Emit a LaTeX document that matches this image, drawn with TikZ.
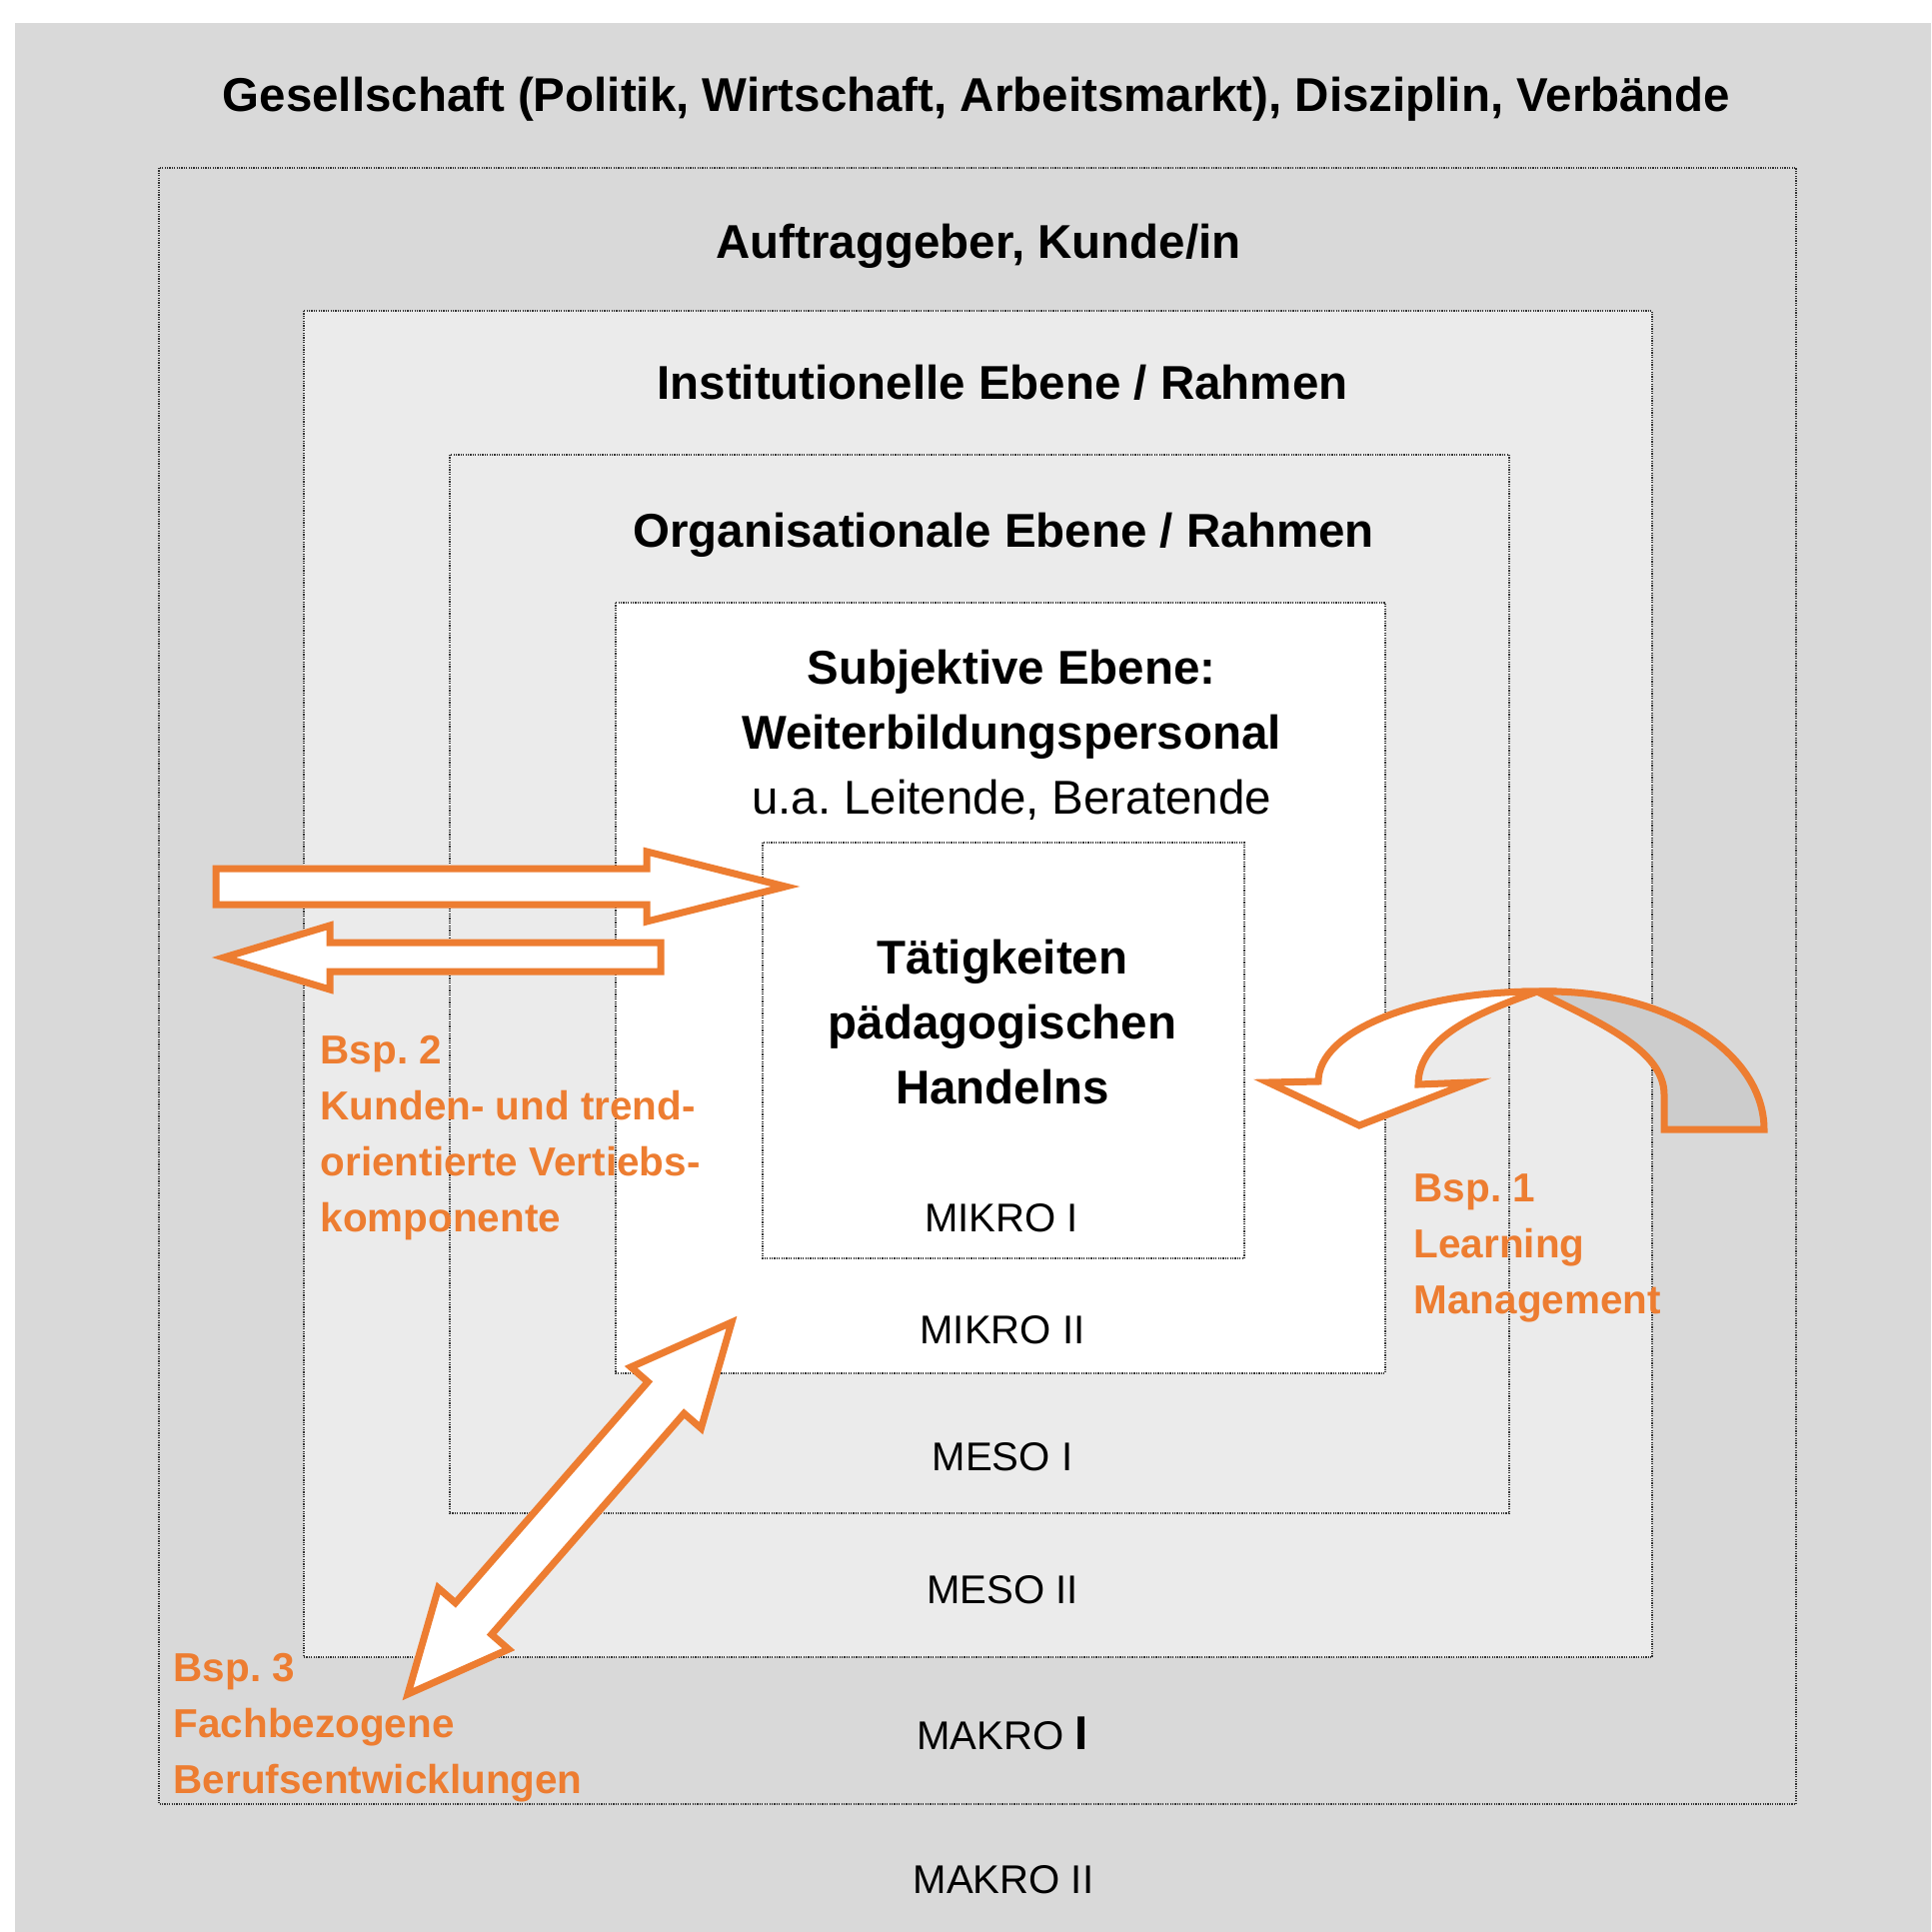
\documentclass[tikz,border=0pt]{standalone}
\usepackage{fontspec}
\setmainfont{Liberation Sans}
\frenchspacing
\definecolor{bsporange}{RGB}{237,125,49}
\definecolor{grauaussen}{RGB}{217,217,217}
\definecolor{grauinnen}{RGB}{235,235,235}
\definecolor{graurueck}{RGB}{204,204,204}
\tikzset{
  ebene/.style={draw=black!80, line width=0.12mm, dash pattern=on 0.12mm off 0.12mm},
  titel/.style={font=\bfseries\fontsize{13.5}{18.6}\selectfont, inner sep=0pt, align=center},
  stufe/.style={font=\fontsize{11.4}{13}\selectfont, inner sep=0pt, anchor=base},
  bsp/.style={text=bsporange, font=\bfseries\fontsize{11.5}{15.9}\selectfont, inner sep=0pt, align=left, anchor=north west},
  blockpfeil/.style={draw=bsporange, line width=0.7mm, line join=miter}
}
\begin{document}
\begin{tikzpicture}[x=0.01cm, y=-0.01cm]
		\useasboundingbox (0,0) rectangle (1932,1933);
		\fill[white] (0,0) rectangle (1932,1933);
		\fill[grauaussen] (15,23) rectangle (1932,1933);
		
		% Ebenen von aussen nach innen
		\draw[ebene, fill=grauaussen] (159,168) rectangle (1797,1805);
		\draw[ebene, fill=grauinnen] (304,311) rectangle (1653,1658);
		\draw[ebene, fill=grauinnen] (450,455) rectangle (1510,1514);
		\draw[ebene, fill=white] (616,603) rectangle (1386,1374);
		\draw[ebene, fill=white] (763,843) rectangle (1245,1259);
		
		\node[titel, anchor=base] (gesellschaft) at (977,111)
			{Gesellschaft (Politik, Wirtschaft, Arbeitsmarkt), Disziplin, Verbände};
		\node[titel, anchor=base] (auftraggeber) at (979,258) {Auftraggeber, Kunde/in};
		\node[titel, anchor=base] (institution) at (1003,399) {Institutionelle Ebene / Rahmen};
		\node[titel, anchor=base] (organisation) at (1004,547) {Organisationale Ebene / Rahmen};
		\node[titel, anchor=north] (subjekt) at (1012,649)
			{Subjektive Ebene:\\Weiterbildungspersonal\\\textmd{u.a. Leitende, Beratende}};
		\node[titel, anchor=north] (taetigkeit) at (1003,939)
			{Tätigkeiten\\pädagogischen\\Handelns};
		
		\node[stufe] (mikroI) at (1002,1232) {MIKRO I};
		\node[stufe] (mikroII) at (1003,1344) {MIKRO II};
		\node[stufe] (mesoI) at (1003,1471) {MESO I};
		\node[stufe] (mesoII) at (1003,1604) {MESO II};
		\node[stufe] (makroI) at (1003,1750)
			{MAKRO {\bfseries\fontsize{13.5}{13.5}\selectfont I}};
		\node[stufe] (makroII) at (1004,1894) {MAKRO II};
		
		% Bsp. 2
		\draw[blockpfeil, fill=white] (216,869) -- (647,869) -- (647,852)
			-- (786,887) -- (647,922) -- (647,905) -- (216,905) -- cycle;
		\draw[blockpfeil, fill=white] (224,958) -- (330,926) -- (330,943)
			-- (661,943) -- (661,972) -- (330,972) -- (330,990) -- cycle;
		\node[bsp] (bspzwei) at (320,1036)
			{Bsp. 2\\Kunden- und trend-\\orientierte Vertiebs-\\komponente};
		
		% Bsp. 1
		\draw[blockpfeil, fill=graurueck] (1538,992) -- (1550,992)
			.. controls (1669,992) and (1765,1054) .. (1765,1130) -- (1665,1130)
			-- (1665,1095) .. controls (1665,1050) and (1598,1022) .. (1538,992) -- cycle;
		\draw[blockpfeil, fill=white] (1538,992)
			.. controls (1417,992) and (1319,1032) .. (1319,1082) -- (1269,1083)
			-- (1360,1126) -- (1471,1083) -- (1419,1085)
			.. controls (1419,1035) and (1486,1011) .. (1538,992) -- cycle;
		\node[bsp] (bspeins) at (1414,1174) {Bsp. 1\\Learning\\Management};
		
		% Bsp. 3
		\draw[blockpfeil, fill=white] (732,1323) -- (701.4,1429) -- (684.4,1414.2)
			-- (491.8,1635.3) -- (508.8,1650.1) -- (408,1695) -- (438.6,1588.9)
			-- (455.6,1603.7) -- (648.2,1382.6) -- (631.2,1367.8) -- cycle;
		\node[bsp] (bspdrei) at (173,1654) {Bsp. 3\\Fachbezogene\\Berufsentwicklungen};
	\end{tikzpicture}
\end{document}
